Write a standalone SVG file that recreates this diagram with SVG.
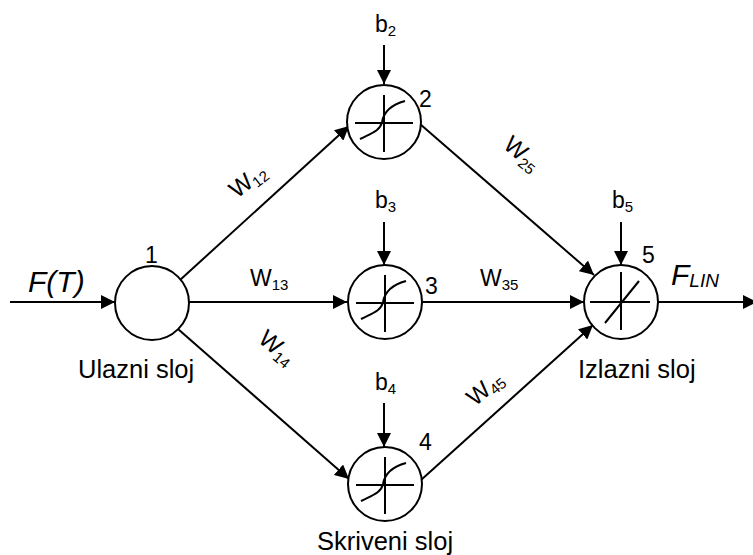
<svg xmlns="http://www.w3.org/2000/svg" width="753" height="555" viewBox="0 0 753 555">
<style>
.n{fill:#fff;stroke:#000;stroke-width:2}
.s{fill:none;stroke:#000;stroke-width:2}
.c{fill:none;stroke:#000;stroke-width:2;marker-end:url(#ah)}
text{font-family:"Liberation Sans",Arial,sans-serif;font-size:23px;fill:#000}
.sub{font-size:15px}
.big{font-size:30px;font-style:italic}
.lab{font-size:25.5px}
.w{font-size:24px}
</style>
<defs>
<marker id="ah" viewBox="0 0 14 14" refX="14" refY="7" markerWidth="14" markerHeight="14" markerUnits="userSpaceOnUse" orient="auto">
<path d="M0,0 L14,7 L0,14 Z" fill="#000"/>
</marker>
<g id="sig">
<path class="s" d="M-29,1 H29 M0,-27 V30"/>
<path class="s" d="M-24,17 C-12,11 -4,9 -2,0 C0,-12 10,-18 21,-21"/>
</g>
</defs>
<g id="connectors">
<path class="c" d="M10,302 H115"/>
<path class="c" d="M180,280 L349,126"/>
<path class="c" d="M189,302 H347"/>
<path class="c" d="M178,329 L349,479"/>
<path class="c" d="M420,124 L594,275"/>
<path class="c" d="M422,302 H584"/>
<path class="c" d="M421,480 L593,325"/>
<path class="c" d="M658,302 H757"/>
<path class="c" d="M384,45 V84"/>
<path class="c" d="M384,222 V265"/>
<path class="c" d="M384,403 V447"/>
<path class="c" d="M621,222 V265"/>
</g>
<g id="labels">
<text class="big" x="28" y="292">F(T)</text>
<text class="big" x="671" y="285">F<tspan font-size="19" dy="2">LIN</tspan></text>
<text x="375" y="32">b<tspan class="sub" dy="4">2</tspan></text>
<text x="375" y="208">b<tspan class="sub" dy="4">3</tspan></text>
<text x="375" y="390">b<tspan class="sub" dy="4">4</tspan></text>
<text x="612" y="208">b<tspan class="sub" dy="4">5</tspan></text>
<text x="250" y="286">W<tspan class="sub" dy="4">13</tspan></text>
<text x="480" y="286">W<tspan class="sub" dy="4">35</tspan></text>
<text class="w" transform="translate(237,199) rotate(-38)">W<tspan class="sub" dy="4">12</tspan></text>
<text class="w" transform="translate(502,147) rotate(40)">W<tspan class="sub" dy="4">25</tspan></text>
<text class="w" transform="translate(257,341) rotate(40)">W<tspan class="sub" dy="4">14</tspan></text>
<text class="w" transform="translate(475,407) rotate(-40)">W<tspan class="sub" dy="4">45</tspan></text>
<text class="lab" x="78" y="378">Ulazni sloj</text>
<text class="lab" x="578" y="378">Izlazni sloj</text>
<text class="lab" x="317" y="550">Skriveni sloj</text>
</g>
<g id="node1">
<circle class="n" cx="152" cy="303" r="37"/>
<text x="145" y="263">1</text>
</g>
<g id="node2">
<circle class="n" cx="384" cy="122" r="37"/>
<use href="#sig" x="384" y="122"/>
<text x="419" y="107">2</text>
</g>
<g id="node3">
<circle class="n" cx="385" cy="302" r="37"/>
<use href="#sig" x="385" y="302"/>
<text x="425" y="294">3</text>
</g>
<g id="node4">
<circle class="n" cx="385" cy="484" r="37"/>
<use href="#sig" x="385" y="484"/>
<text x="419" y="450">4</text>
</g>
<g id="node5">
<circle class="n" cx="621" cy="302" r="37"/>
<path class="s" d="M590,302 H650 M621,272 V330 M605,323 L639,281"/>
<text x="642" y="263">5</text>
</g>
</svg>
